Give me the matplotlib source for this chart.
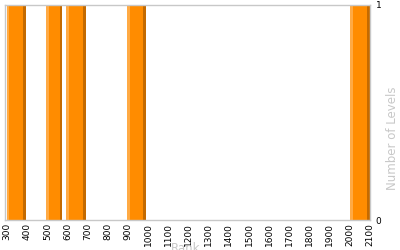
import matplotlib
matplotlib.use("Agg")
import matplotlib.pyplot as plt

# rank bins (left edge, width) and number of levels in each
bin_left = [298, 494, 594, 895, 2000]
bin_width = [95, 80, 98, 95, 100]
levels = [1, 1, 1, 1, 1]

xticks = list(range(300, 2101, 100))

fig = plt.figure(figsize=(4, 2.5), dpi=100)
ax = fig.add_axes([0.0125, 0.12, 0.9125, 0.86])

main = "#ff8c00"
light = "#ffaa44"
dark = "#c46a00"

for l, w, h in zip(bin_left, bin_width, levels):
    ax.bar(l, h, width=w, align="edge", color=main, linewidth=0)
    ax.bar(l, h, width=w * 0.15, align="edge", color=light, linewidth=0)
    ax.bar(l + w * 0.85, h, width=w * 0.15, align="edge", color=dark, linewidth=0)

ax.set_xlim(290, 2100)
ax.set_ylim(0, 1)
ax.set_xticks(xticks)
ax.set_xticklabels([str(t) for t in xticks], rotation=90, fontsize=6.5)
ax.set_yticks([0, 1])
ax.yaxis.tick_right()
ax.yaxis.set_label_position("right")
ax.tick_params(axis="both", length=0, pad=2, labelsize=6.5)
ax.tick_params(axis="y", pad=4)

for s in ax.spines.values():
    s.set_color("#c8c8c8")
    s.set_linewidth(1)

ax.set_ylabel("Number of Levels", color="#c8c8c8", fontsize=8.5)
ax.yaxis.set_label_coords(1.043, 0.38)
ax.set_xlabel("Rank", color="#c8c8c8", fontsize=8.5)
ax.xaxis.set_label_coords(0.496, -0.1)

fig.savefig("out.png", dpi=100)
